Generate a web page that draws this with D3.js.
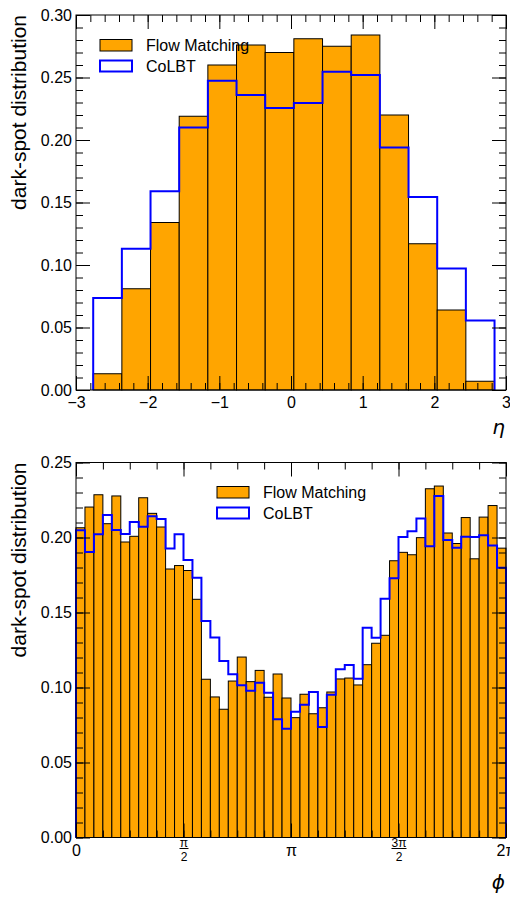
<!DOCTYPE html>
<html>
<head>
<meta charset="utf-8">
<script src="https://cdn.jsdelivr.net/npm/d3@7"></script>
<style>
  body { margin: 0; background: #fff; }
  svg { display: block; font-family: "Liberation Sans", Arial, Helvetica, sans-serif; }
</style>
</head>
<body>
<svg id="chart" width="510" height="897"></svg>
<script>
// eta histogram (top panel)
const etaEdges = [-2.76, -2.36, -1.96, -1.56, -1.16, -0.76, -0.36, 0.04, 0.44, 0.84, 1.24, 1.64, 2.04, 2.44, 2.84];
const etaFlow = [0.013, 0.081, 0.134, 0.219, 0.260, 0.276, 0.270, 0.281, 0.275, 0.284, 0.220, 0.117, 0.064, 0.007];
const etaColbt = [0.0736, 0.113, 0.159, 0.210, 0.2475, 0.236, 0.2256, 0.2296, 0.2547, 0.252, 0.194, 0.1544, 0.0973, 0.0557];
const etaTicks = [-3, -2, -1, 0, 1, 2, 3];
const etaTickLabels = ["\u22123", "\u22122", "\u22121", "0", "1", "2", "3"];
const yTicksTop = [0, 0.05, 0.10, 0.15, 0.20, 0.25, 0.30];

// phi histogram (bottom panel), 48 bins over [0, 2pi]
const phiBins = 48;
const phiFlow = [
  0.2065, 0.2203, 0.2285, 0.2092, 0.2277, 0.197, 0.2008, 0.2265, 0.2161, 0.207,
  0.179, 0.1813, 0.178, 0.1588, 0.1055, 0.0937, 0.0855, 0.1043, 0.1203, 0.1039,
  0.1114, 0.0935, 0.109, 0.093, 0.0799, 0.0955, 0.0825, 0.0865, 0.097, 0.1057,
  0.1063, 0.1017, 0.1152, 0.1295, 0.1348, 0.1845, 0.1901, 0.1885, 0.1999, 0.2325,
  0.2343, 0.203, 0.196, 0.2133, 0.1858, 0.2136, 0.2213, 0.1929
];
const phiColbt = [
  0.2048, 0.1903, 0.2021, 0.215, 0.205, 0.2023, 0.2103, 0.2072, 0.2141, 0.2123,
  0.1927, 0.2021, 0.185, 0.1732, 0.1444, 0.1333, 0.1177, 0.1088, 0.1015, 0.0979,
  0.1032, 0.0965, 0.0788, 0.0725, 0.0839, 0.0885, 0.097, 0.0737, 0.0952, 0.1121,
  0.115, 0.1059, 0.1399, 0.1332, 0.1592, 0.1728, 0.2003, 0.2041, 0.2127, 0.1941,
  0.2277, 0.1983, 0.1932, 0.2005, 0.2003, 0.2015, 0.1947, 0.1798
];
const phiTicks = [0, Math.PI / 2, Math.PI, 3 * Math.PI / 2, 2 * Math.PI];
const phiTickLabels = [["0"], ["\u03c0", "2"], ["\u03c0"], ["3\u03c0", "2"], ["2\u03c0"]];
const yTicksBottom = [0, 0.05, 0.10, 0.15, 0.20, 0.25];

const ORANGE = "#ffa500";
const BLUE = "#0000ff";
const svg = d3.select("#chart");

function drawPanel(cfg) {
  const x = d3.scaleLinear().domain(cfg.xDomain).range([76, 506]);
  const y = d3.scaleLinear().domain(cfg.yDomain).range([cfg.bottom, cfg.top]);
  const g = svg.append("g");
  const edges = cfg.edges;

  // orange filled bars
  g.selectAll("rect.bar")
    .data(cfg.flow)
    .enter()
    .append("rect")
    .attr("class", "bar")
    .attr("x", (d, i) => x(edges[i]))
    .attr("width", (d, i) => x(edges[i + 1]) - x(edges[i]))
    .attr("y", (d) => y(d))
    .attr("height", (d) => y(0) - y(d))
    .attr("fill", ORANGE)
    .attr("stroke", "#000")
    .attr("stroke-width", 1);

  // blue step outline
  const pts = [[edges[0], 0]];
  cfg.colbt.forEach((v, i) => {
    pts.push([edges[i], v]);
    pts.push([edges[i + 1], v]);
  });
  pts.push([edges[edges.length - 1], 0]);
  g.append("path")
    .attr("d", d3.line().x((p) => x(p[0])).y((p) => y(p[1]))(pts))
    .attr("fill", "none")
    .attr("stroke", BLUE)
    .attr("stroke-width", 2);

  // ticks, pointing inward on all four sides
  const major = 14, minor = 7;
  const yMinor = d3.range(cfg.yDomain[0], cfg.yDomain[1] + 1e-9, 0.01);

  const left = g.append("g").attr("transform", "translate(76,0)");
  left.call(d3.axisLeft(y).tickValues(yMinor).tickSizeInner(-minor).tickSizeOuter(0).tickFormat(""));
  left.append("g").call(d3.axisLeft(y).tickValues(cfg.yTicks).tickSizeInner(-major).tickSizeOuter(0)
    .tickPadding(4).tickFormat(d3.format(".2f")));

  const right = g.append("g").attr("transform", "translate(506,0)");
  right.call(d3.axisRight(y).tickValues(yMinor).tickSizeInner(-minor).tickSizeOuter(0).tickFormat(""));
  right.append("g").call(d3.axisRight(y).tickValues(cfg.yTicks).tickSizeInner(-major).tickSizeOuter(0).tickFormat(""));

  const bottomAx = g.append("g").attr("transform", `translate(0,${cfg.bottom})`);
  bottomAx.call(d3.axisBottom(x).tickValues(cfg.xMinor).tickSizeInner(-minor).tickSizeOuter(0).tickFormat(""));
  const bMajor = bottomAx.append("g").call(d3.axisBottom(x).tickValues(cfg.xTicks).tickSizeInner(-major)
    .tickSizeOuter(0).tickPadding(3).tickFormat(""));

  const topAx = g.append("g").attr("transform", `translate(0,${cfg.top})`);
  topAx.call(d3.axisTop(x).tickValues(cfg.xMinor).tickSizeInner(-minor).tickSizeOuter(0).tickFormat(""));
  topAx.append("g").call(d3.axisTop(x).tickValues(cfg.xTicks).tickSizeInner(-major).tickSizeOuter(0).tickFormat(""));

  g.selectAll(".domain").remove();
  g.selectAll(".tick line").attr("stroke", "#000").attr("stroke-width", 1);
  g.selectAll(".tick text").attr("font-size", 16).attr("font-family", null).attr("fill", "#000");

  // x tick labels (plain or fraction)
  bMajor.selectAll(".tick").each(function (d, i) {
    const lab = cfg.xTickLabels[i];
    const t = d3.select(this);
    if (lab.length === 1) {
      t.append("text").attr("y", 18).attr("text-anchor", "middle")
        .attr("font-size", 16).attr("fill", "#000").text(lab[0]);
    } else {
      t.append("text").attr("y", 9).attr("text-anchor", "middle")
        .attr("font-size", 12).attr("fill", "#000").text(lab[0]);
      const w = lab[0].length > 1 ? 15 : 9;
      t.append("line").attr("x1", -w / 2).attr("x2", w / 2).attr("y1", 11).attr("y2", 11)
        .attr("stroke", "#000").attr("stroke-width", 1);
      t.append("text").attr("y", 23).attr("text-anchor", "middle")
        .attr("font-size", 12).attr("fill", "#000").text(lab[1]);
    }
  });

  // frame
  g.append("rect")
    .attr("x", 76).attr("y", cfg.top)
    .attr("width", 430).attr("height", cfg.bottom - cfg.top)
    .attr("fill", "none").attr("stroke", "#000").attr("stroke-width", 1);

  // axis labels
  g.append("text")
    .attr("transform", `translate(26,${cfg.top}) rotate(-90)`)
    .attr("text-anchor", "end")
    .attr("font-size", 21)
    .text("dark-spot distribution");
  g.append("text")
    .attr("x", 505).attr("y", cfg.bottom + cfg.xlabelDy)
    .attr("text-anchor", "end")
    .attr("font-family", "DejaVu Sans")
    .attr("font-style", "italic")
    .attr("font-size", 20)
    .text(cfg.xlabel);

  // legend
  const lg = g.append("g").attr("transform", `translate(${cfg.legend[0]},${cfg.legend[1]})`);
  lg.append("rect").attr("x", 0).attr("y", 0).attr("width", 32).attr("height", 11.5)
    .attr("fill", ORANGE).attr("stroke", "#000").attr("stroke-width", 1);
  lg.append("rect").attr("x", 0).attr("y", 21).attr("width", 32).attr("height", 11)
    .attr("fill", "#fff").attr("stroke", BLUE).attr("stroke-width", 2);
  lg.append("text").attr("x", 46).attr("y", 11.5).attr("font-size", 16).text("Flow Matching");
  lg.append("text").attr("x", 46).attr("y", 32.5).attr("font-size", 16).text("CoLBT");
}

drawPanel({
  top: 15, bottom: 390,
  xDomain: [-3, 3], yDomain: [0, 0.30],
  edges: etaEdges, flow: etaFlow, colbt: etaColbt,
  xTicks: etaTicks, xTickLabels: etaTickLabels.map((s) => [s]),
  xMinor: d3.range(-3, 3.0001, 0.2),
  yTicks: yTicksTop,
  xlabel: "\u03b7", xlabelDy: 44,
  legend: [100, 39.5]
});

drawPanel({
  top: 462.5, bottom: 837.5,
  xDomain: [0, 2 * Math.PI], yDomain: [0, 0.25],
  edges: d3.range(phiBins + 1).map((i) => i * 2 * Math.PI / phiBins),
  flow: phiFlow, colbt: phiColbt,
  xTicks: phiTicks, xTickLabels: phiTickLabels,
  xMinor: d3.range(17).map((i) => i * Math.PI / 8),
  yTicks: yTicksBottom,
  xlabel: "\u03d5", xlabelDy: 51,
  legend: [217, 486.5]
});
</script>
</body>
</html>
